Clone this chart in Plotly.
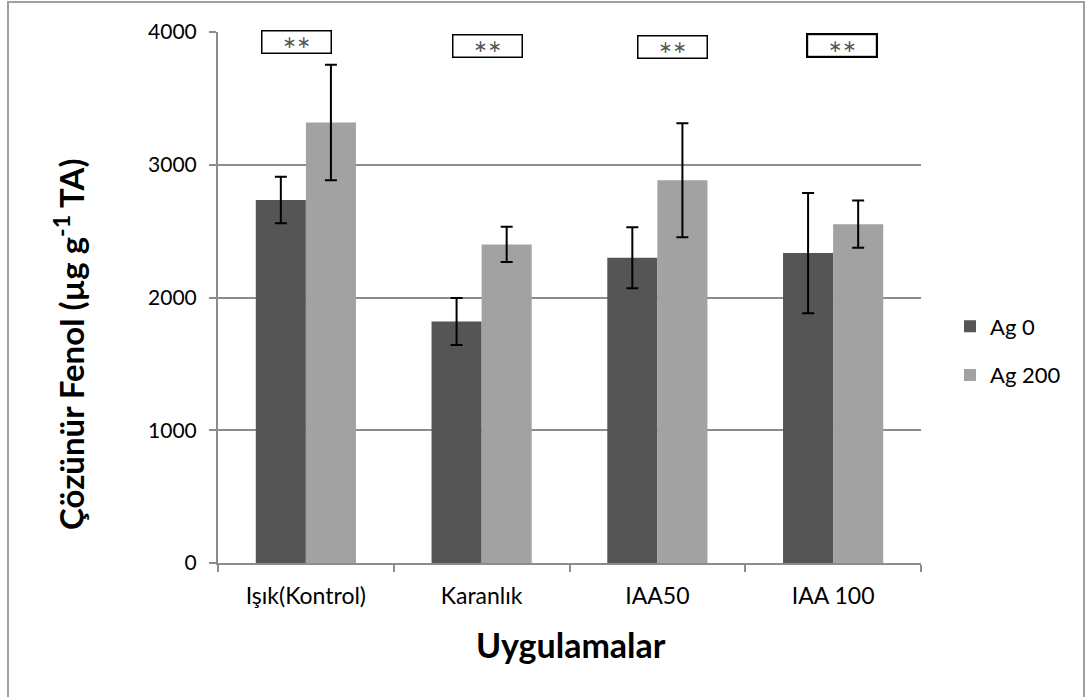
import plotly.graph_objects as go

# Treatments and soluble phenol means / error values
categories = ["Işık(Kontrol)", "Karanlık", "IAA50", "IAA 100"]
ag0_values = [2735, 1820, 2300, 2335]
ag0_errors = [175, 177, 230, 453]
ag200_values = [3318, 2400, 2883, 2552]
ag200_errors = [435, 133, 430, 178]
series_names = ["Ag 0", "Ag 200"]
significance = ["∗∗", "∗∗", "∗∗", "∗∗"]
y_ticks = [0, 1000, 2000, 3000, 4000]

W, H = 1086, 697
L, R, T, B = 218, 165, 32, 134
plot_w = W - L - R
plot_h = H - T - B

def px_to_paper_x(px):
    return (px - L) / plot_w

def px_to_paper_y(py):
    return (H - B - py) / plot_h

label_font = "Lato, 'Open Sans', sans-serif"

fig = go.Figure()
fig.add_trace(go.Bar(
    x=categories, y=ag0_values, name=series_names[0],
    marker=dict(color="#555555", line=dict(width=0)),
    error_y=dict(type="data", array=ag0_errors, visible=True,
                 color="#000000", thickness=2, width=6),
    legendgroup="a",
))
fig.add_trace(go.Bar(
    x=categories, y=ag200_values, name=series_names[1],
    marker=dict(color="#a2a2a2", line=dict(width=0)),
    error_y=dict(type="data", array=ag200_errors, visible=True,
                 color="#000000", thickness=2, width=6),
    legendgroup="b",
))

# significance boxes above each group
box_shift = [-9, 6, 15, 9]
box_y = [3921, 3895, 3887, 3898]
box_bw = [1.5, 1.5, 1.5, 2.2]
for cat, txt, dx, yy, bw in zip(categories, significance, box_shift, box_y, box_bw):
    fig.add_annotation(
        x=cat, y=yy, xref="x", yref="y", xshift=dx,
        text=txt, showarrow=False,
        font=dict(family="DejaVu Sans", size=17, color="#555555"),
        bgcolor="white", bordercolor="#000000", borderwidth=bw,
        width=66, height=19, align="center", valign="middle",
    )

# axis titles
fig.add_annotation(
    x=px_to_paper_x(69), y=px_to_paper_y(344), xref="paper", yref="paper",
    xanchor="center", yanchor="middle",
    text="<b>Çözünür Fenol (µg g<sup>-1</sup> TA)</b>", showarrow=False,
    textangle=-90, font=dict(family=label_font, size=33, color="#000000"),
)
fig.add_annotation(
    x=px_to_paper_x(571), y=px_to_paper_y(644), xref="paper", yref="paper",
    xanchor="center", yanchor="middle",
    text="<b>Uygulamalar</b>", showarrow=False,
    font=dict(family=label_font, size=34, color="#000000"),
)

# outer chart frame
fig.add_shape(
    type="rect", xref="paper", yref="paper",
    x0=px_to_paper_x(8), x1=px_to_paper_x(1084),
    y0=px_to_paper_y(720), y1=px_to_paper_y(2),
    line=dict(color="#a0a0a0", width=2), fillcolor="rgba(0,0,0,0)",
    layer="below",
)

fig.update_layout(
    width=W, height=H,
    margin=dict(l=L, r=R, t=T, b=B, autoexpand=False),
    paper_bgcolor="white", plot_bgcolor="white",
    barmode="group", bargap=0.43, bargroupgap=0,
    showlegend=True,
    legend=dict(
        x=px_to_paper_x(950), y=px_to_paper_y(351), xanchor="left", yanchor="middle",
        font=dict(family=label_font, size=22, color="#000000"),
        traceorder="grouped", tracegroupgap=17,
        bgcolor="rgba(0,0,0,0)", itemwidth=30,
    ),
    xaxis=dict(
        showgrid=False, showline=True, linecolor="#8c8c8c", linewidth=2,
        ticks="outside", tickson="boundaries", ticklen=7, tickcolor="#8c8c8c", tickwidth=1.5,
        tickfont=dict(family=label_font, size=23, color="#000000"),
        ticklabelstandoff=11,
        range=[-0.5, 3.5],
    ),
    yaxis=dict(
        range=[0, 4000], tickvals=y_ticks,
        showgrid=True, gridcolor="#8c8c8c", gridwidth=2,
        showline=True, linecolor="#8c8c8c", linewidth=2,
        ticks="outside", ticklen=7, tickcolor="#8c8c8c", tickwidth=1.5,
        tickfont=dict(family=label_font, size=21, color="#000000"),
        ticklabelstandoff=8,
        zeroline=False,
    ),
)

fig.write_html("out.html")
